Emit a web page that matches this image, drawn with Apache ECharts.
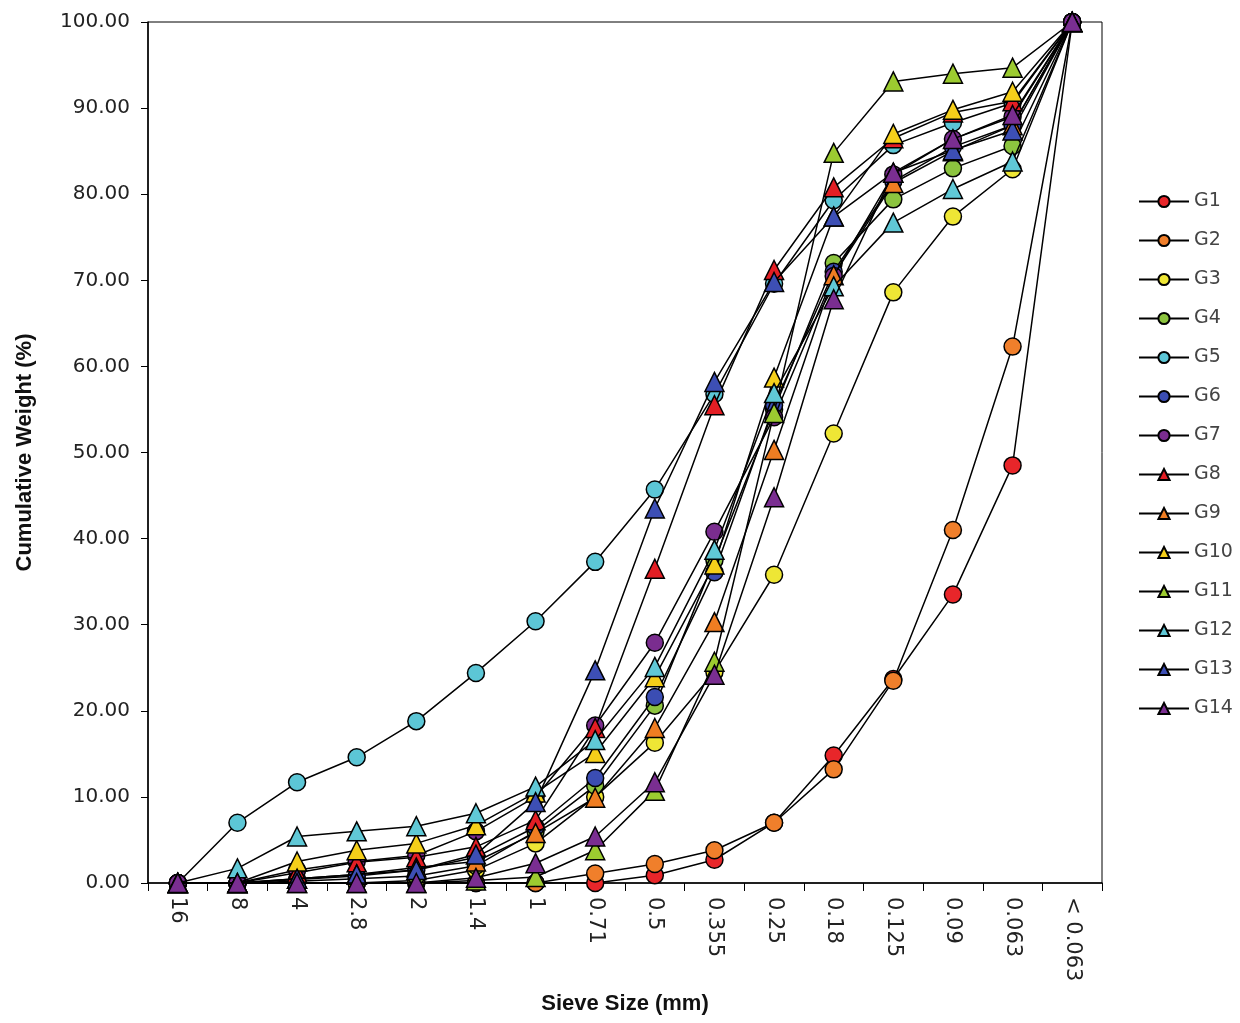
<!DOCTYPE html>
<html>
<head>
<meta charset="utf-8">
<script src="https://cdn.jsdelivr.net/npm/echarts@6/dist/echarts.min.js"></script>
<style>html,body{margin:0;padding:0;background:#fff;}#chart{width:1240px;height:1023px;}</style>
</head>
<body>
<div id="chart"></div>
<script>
const categories = ['16','8','4','2.8','2','1.4','1','0.71','0.5','0.355','0.25','0.18','0.125','0.09','0.063','< 0.063'];
const yTicks = [0,10,20,30,40,50,60,70,80,90,100];

const G1  = [0,0,0,0,0,0,0,0,0.9,2.7,7.0,14.8,23.7,33.5,48.5,100];
const G2  = [0,0,0,0,0,0,0,1.1,2.2,3.8,7.0,13.2,23.5,41.0,62.3,100];
const G3  = [0,0,0,0,0.3,1.5,4.6,10.0,16.3,24.5,35.8,52.2,68.6,77.4,82.9,100];
const G4  = [0,0,0.2,0.5,0.8,2.0,6.0,11.3,20.6,37.5,55.0,72.0,79.4,83.0,85.6,100];
const G5  = [0,7.0,11.7,14.6,18.8,24.4,30.4,37.3,45.7,56.8,69.6,79.3,85.7,88.3,90.6,100];
const G6  = [0,0,0.4,0.8,1.5,3.0,6.5,12.2,21.6,36.1,55.5,71.0,81.5,85.5,88.0,100];
const G7  = [0,0,1.5,2.5,3.2,6.0,10.0,18.3,27.9,40.8,54.1,70.5,82.3,86.4,89.0,100];
const G8  = [0,0,1.2,2.4,3.0,4.2,7.3,18.0,36.5,55.5,71.2,80.8,86.5,89.5,90.8,100];
const G9  = [0,0,0.5,1.0,1.8,2.5,5.8,9.9,18.0,30.3,50.3,70.6,81.3,85.0,88.0,100];
const G10 = [0,0,2.5,3.8,4.6,6.7,10.5,15.1,23.9,37.0,58.7,77.4,87.0,89.8,91.9,100];
const G11 = [0,0,0,0,0,0.3,0.7,3.8,10.7,25.7,54.6,84.8,93.1,94.0,94.7,100];
const G12 = [0,1.7,5.4,6.0,6.6,8.1,11.2,16.6,25.1,38.7,56.9,69.3,76.7,80.6,83.8,100];
const G13 = [0,0,0.5,1.0,1.5,3.3,9.4,24.7,43.5,58.2,69.8,77.4,82.5,85.1,87.4,100];
const G14 = [0,0,0,0,0,0.6,2.3,5.4,11.7,24.2,44.8,67.8,82.5,86.4,89.2,100];

const seriesNames = ['G1','G2','G3','G4','G5','G6','G7','G8','G9','G10','G11','G12','G13','G14'];
const seriesData = [G1,G2,G3,G4,G5,G6,G7,G8,G9,G10,G11,G12,G13,G14];
const colors = ['#e8262a','#f07f2b','#eee635','#8cc43f','#5cc6d6','#3b4db3','#7a2d8f',
                '#e31e24','#ef7d22','#f5cf1a','#9ccb30','#60c8d6','#3d4fb5','#7a2e91'];
const symbols = ['circle','circle','circle','circle','circle','circle','circle',
                 'triangle','triangle','triangle','triangle','triangle','triangle','triangle'];

const FONT = 'DejaVu Sans';
const NARROW = '"Liberation Sans Narrow", "Liberation Sans", Arial, sans-serif';

const chart = echarts.init(document.getElementById('chart'), null, {renderer: 'canvas'});
const option = {
  backgroundColor: '#fff',
  animation: false,
  grid: {left: 148, top: 22, right: 138, bottom: 140, show: true, borderColor: '#000', borderWidth: 1, backgroundColor: 'transparent'},
  legend: {
    orient: 'vertical', left: 1138, top: 192, padding: 0,
    itemWidth: 50, itemHeight: 14, itemGap: 20,
    textStyle: {fontFamily: FONT, fontSize: 19, color: '#444'},
    data: seriesNames
  },
  xAxis: {
    type: 'category', data: categories, boundaryGap: true,
    axisLine: {lineStyle: {color: '#000', width: 1.5}},
    axisTick: {show: true, length: 8, lineStyle: {color: '#000'}},
    axisLabel: {rotate: -90, margin: 14, fontFamily: FONT, fontSize: 21, color: '#222', interval: 0},
    splitLine: {show: false},
    name: 'Sieve Size (mm)', nameLocation: 'middle', nameGap: 110,
    nameTextStyle: {fontFamily: NARROW, fontWeight: 'bold', fontSize: 22, color: '#111'}
  },
  yAxis: {
    type: 'value', min: 0, max: 100, interval: 10,
    axisLine: {show: true, lineStyle: {color: '#000', width: 1.5}},
    axisTick: {show: true, length: 7, lineStyle: {color: '#000'}},
    axisLabel: {fontFamily: FONT, fontSize: 20, color: '#222', margin: 18, formatter: v => v.toFixed(2)},
    splitLine: {show: false},
    name: 'Cumulative Weight (%)', nameLocation: 'middle', nameGap: 112, nameRotate: 90,
    nameTextStyle: {fontFamily: NARROW, fontWeight: 'bold', fontSize: 22, color: '#111'}
  },
  series: seriesNames.map((n, i) => ({
    name: n, type: 'line', data: seriesData[i],
    symbol: symbols[i], symbolSize: symbols[i] === 'circle' ? 17 : 19,
    lineStyle: {color: '#000', width: 1.5},
    itemStyle: {color: colors[i], borderColor: '#000', borderWidth: 1.5},
    emphasis: {disabled: true},
    z: 2 + i
  }))
};
chart.setOption(option);
</script>
</body>
</html>
